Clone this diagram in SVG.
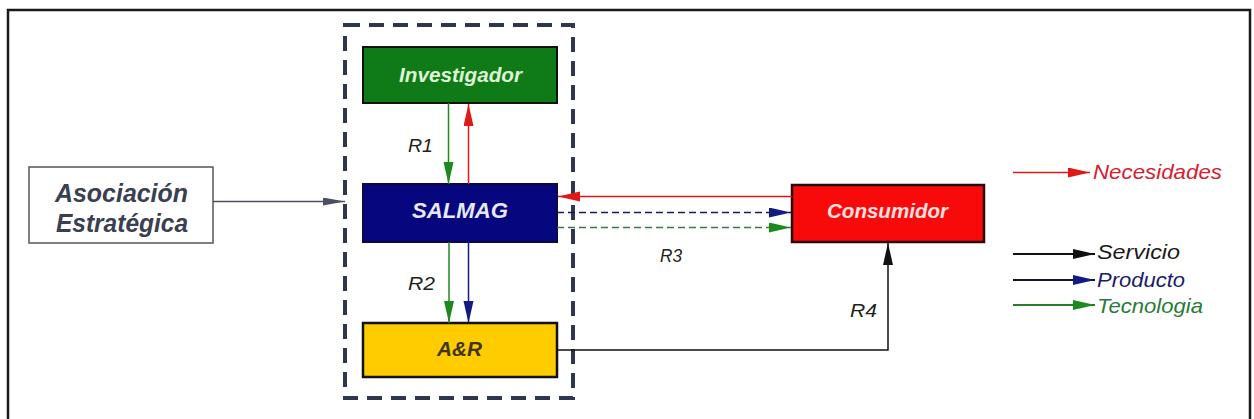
<svg xmlns="http://www.w3.org/2000/svg" width="1254" height="419" viewBox="0 0 1254 419">
<style>
.lbl{font-family:"Liberation Sans",Arial,sans-serif;font-style:italic;font-weight:bold}
.rl{font-family:"Liberation Sans",Arial,sans-serif;font-style:italic;font-size:19px;fill:#222}
.lg{font-family:"Liberation Sans",Arial,sans-serif;font-style:italic;font-size:21px}
.c{fill:none;stroke-width:1.5}
</style>
<defs>
<marker id="hr" markerUnits="userSpaceOnUse" markerWidth="24" markerHeight="12" refX="22" refY="5" orient="auto"><path d="M0,0 L22,5 L0,10 z" fill="#e01818"/></marker>
<marker id="hg" markerUnits="userSpaceOnUse" markerWidth="24" markerHeight="12" refX="22" refY="5" orient="auto"><path d="M0,0 L22,5 L0,10 z" fill="#1c8a1c"/></marker>
<marker id="hb" markerUnits="userSpaceOnUse" markerWidth="24" markerHeight="12" refX="22" refY="5" orient="auto"><path d="M0,0 L22,5 L0,10 z" fill="#141a80"/></marker>
<marker id="hk" markerUnits="userSpaceOnUse" markerWidth="24" markerHeight="12" refX="22" refY="5" orient="auto"><path d="M0,0 L22,5 L0,10 z" fill="#111"/></marker>
<marker id="hs" markerUnits="userSpaceOnUse" markerWidth="24" markerHeight="12" refX="22" refY="4" orient="auto"><path d="M0,0 L22,4 L0,8 z" fill="#4a5060"/></marker>
</defs>
<rect x="0" y="0" width="1254" height="419" fill="#ffffff"/>
<rect x="8" y="10" width="1242" height="420" fill="none" stroke="#1a1a1a" stroke-width="2.5"/>
<rect id="grupo" x="345" y="25" width="228" height="373" fill="none" stroke="#2f3650" stroke-width="4" stroke-dasharray="15 9"/>

<g id="asociacion">
<rect x="29" y="167" width="184" height="76" fill="#fff" stroke="#555" stroke-width="1.5"/>
<text class="lbl" x="55" y="202" font-size="25" fill="#3a4050" textLength="133" lengthAdjust="spacingAndGlyphs">Asociación</text>
<text class="lbl" x="56" y="232" font-size="25" fill="#3a4050" textLength="132" lengthAdjust="spacingAndGlyphs">Estratégica</text>
</g>
<g id="investigador">
<rect x="363" y="47" width="194" height="56" fill="#0f7b16" stroke="#111" stroke-width="2"/>
<text class="lbl" x="399" y="82" font-size="21" fill="#dff2d8" textLength="123" lengthAdjust="spacingAndGlyphs">Investigador</text>
</g>
<g id="salmag">
<rect x="363" y="184" width="194" height="58" fill="#06067f" stroke="#0a0a40" stroke-width="2"/>
<text class="lbl" x="412" y="218" font-size="22" fill="#e8e8f4" textLength="96" lengthAdjust="spacingAndGlyphs">SALMAG</text>
</g>
<g id="ayr">
<rect x="363" y="323" width="194" height="54" fill="#ffcc00" stroke="#111" stroke-width="2.5"/>
<text class="lbl" x="437" y="356" font-size="21" fill="#40341c" textLength="45" lengthAdjust="spacingAndGlyphs">A&amp;R</text>
</g>
<g id="consumidor">
<rect x="792" y="185" width="192" height="57" fill="#f80a0a" stroke="#2a0a0a" stroke-width="2.5"/>
<text class="lbl" x="827" y="218" font-size="20" fill="#ffe0e0" textLength="121" lengthAdjust="spacingAndGlyphs">Consumidor</text>
</g>

<g id="connectors">
<line class="c" x1="213" y1="201.5" x2="345" y2="201.5" stroke="#4a5060" marker-end="url(#hs)"/>
<line class="c" x1="448.5" y1="103" x2="448.5" y2="184" stroke="#1c8a1c" marker-end="url(#hg)"/>
<line class="c" x1="468.5" y1="184" x2="468.5" y2="104" stroke="#e01818" marker-end="url(#hr)"/>
<line class="c" x1="449" y1="242" x2="449" y2="323" stroke="#1c8a1c" marker-end="url(#hg)"/>
<line class="c" x1="468.5" y1="242" x2="468.5" y2="323" stroke="#141a80" marker-end="url(#hb)"/>
<line class="c" x1="792" y1="196.5" x2="558" y2="196.5" stroke="#e01818" marker-end="url(#hr)"/>
<line class="c" x1="557" y1="212.5" x2="791" y2="212.5" stroke="#141a60" stroke-dasharray="7 4" marker-end="url(#hb)"/>
<line class="c" x1="557" y1="227.5" x2="791" y2="227.5" stroke="#3a7a3a" stroke-dasharray="7 4" marker-end="url(#hg)"/>
<polyline class="c" points="557,350 888,350 888,243" stroke="#111" marker-end="url(#hk)"/>
</g>

<g id="labels">
<text class="rl" x="408" y="152" textLength="25" lengthAdjust="spacingAndGlyphs">R1</text>
<text class="rl" x="408" y="290" textLength="27" lengthAdjust="spacingAndGlyphs">R2</text>
<text class="rl" x="660" y="262" textLength="22" lengthAdjust="spacingAndGlyphs">R3</text>
<text class="rl" x="850" y="317" textLength="27" lengthAdjust="spacingAndGlyphs">R4</text>
</g>

<g id="legend">
<line x1="1013" y1="172.5" x2="1090" y2="172.5" stroke="#e01818" stroke-width="1.5" marker-end="url(#hr)"/>
<text class="lg" x="1093" y="179" fill="#d42030" textLength="129" lengthAdjust="spacingAndGlyphs">Necesidades</text>
<line x1="1013" y1="254" x2="1095" y2="254" stroke="#111" stroke-width="1.8" marker-end="url(#hk)"/>
<text class="lg" x="1097" y="259" fill="#1a1a1a" textLength="83" lengthAdjust="spacingAndGlyphs">Servicio</text>
<line x1="1013" y1="280" x2="1095" y2="280" stroke="#111128" stroke-width="1.8" marker-end="url(#hb)"/>
<text class="lg" x="1097" y="287" fill="#1a1a70" textLength="88" lengthAdjust="spacingAndGlyphs">Producto</text>
<line x1="1013" y1="305" x2="1095" y2="305" stroke="#2a7a2a" stroke-width="1.8" marker-end="url(#hg)"/>
<text class="lg" x="1097" y="313" fill="#2a7a3a" textLength="106" lengthAdjust="spacingAndGlyphs">Tecnologia</text>
</g>
</svg>
